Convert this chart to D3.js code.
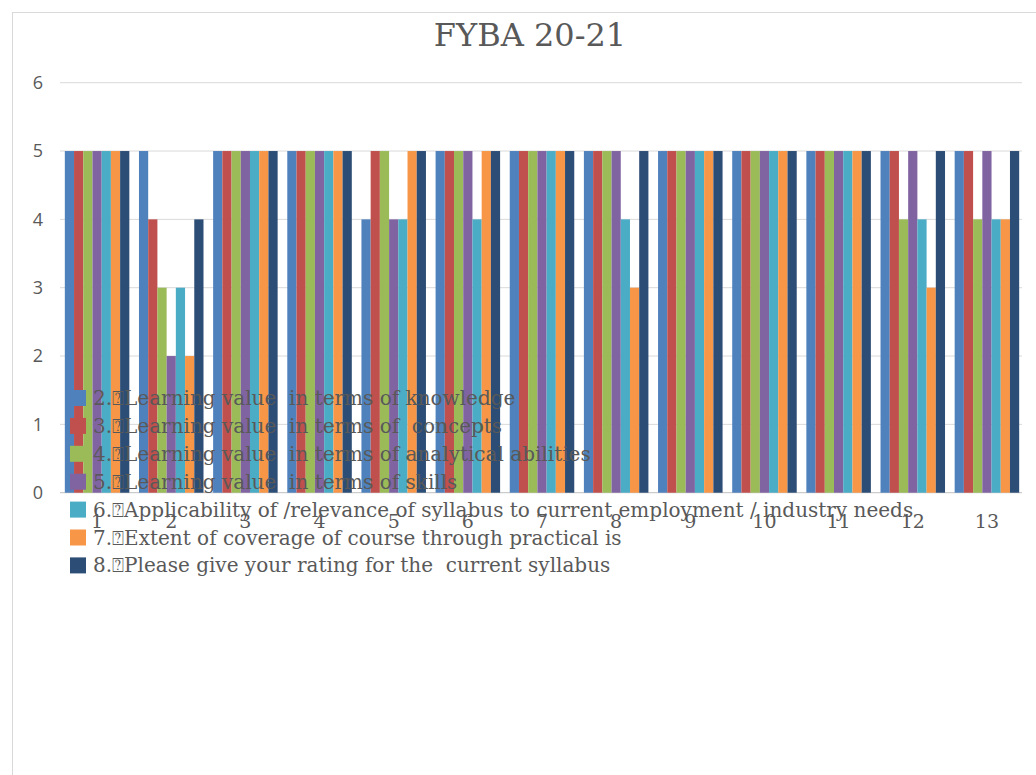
<!DOCTYPE html>
<html>
<head>
<meta charset="utf-8">
<script src="https://cdn.jsdelivr.net/npm/d3@7"></script>
<style>
  body { margin: 0; background: #fff; }
  svg { display: block; }
</style>
</head>
<body>
<svg id="chart" width="1036" height="775"></svg>
<script>
const title = 'FYBA 20-21'
const categories = ['1', '2', '3', '4', '5', '6', '7', '8', '9', '10', '11', '12', '13']
const seriesNames = [
  '2.\u2370Learning value  in terms of knowledge',
  '3.\u2370Learning value  in terms of  concepts',
  '4.\u2370Learning value  in terms of analytical abilities',
  '5.\u2370Learning value  in terms of skills',
  '6.\u2370Applicability of /relevance of syllabus to current employment / industry needs',
  '7.\u2370Extent of coverage of course through practical is',
  '8.\u2370Please give your rating for the  current syllabus'
]
const seriesColors = ['#4f81bd', '#c0504d', '#9bbb59', '#8064a2', '#4bacc6', '#f79646', '#2c4d75']
// one array per series, one value per category (1..13)
const s2 = [5, 5, 5, 5, 4, 5, 5, 5, 5, 5, 5, 5, 5]
const s3 = [5, 4, 5, 5, 5, 5, 5, 5, 5, 5, 5, 5, 5]
const s4 = [5, 3, 5, 5, 5, 5, 5, 5, 5, 5, 5, 4, 4]
const s5 = [5, 2, 5, 5, 4, 5, 5, 5, 5, 5, 5, 5, 5]
const s6 = [5, 3, 5, 5, 4, 4, 5, 4, 5, 5, 5, 4, 4]
const s7 = [5, 2, 5, 5, 5, 5, 5, 3, 5, 5, 5, 3, 4]
const s8 = [5, 4, 5, 5, 5, 5, 5, 5, 5, 5, 5, 5, 5]
const yTicks = [0, 1, 2, 3, 4, 5, 6]

const seriesValues = [s2, s3, s4, s5, s6, s7, s8]
const plotLeft = 60, plotRight = 1024, plotTop = 82.7, plotBottom = 492.7
const textColor = '#595959'
const serif = '"DejaVu Serif", serif'

let svg = d3.select('#chart')

// chart frame
svg.append('rect')
  .attr('x', 12.5).attr('y', 12.5)
  .attr('width', 1040).attr('height', 780)
  .style('fill', '#fff')
  .style('stroke', '#d9d9d9')

svg.append('text')
  .attr('x', 530).attr('y', 46)
  .style('text-anchor', 'middle')
  .style('font-family', serif)
  .style('font-size', '32px')
  .style('fill', textColor)
  .text(title)

let xScale = d3.scaleBand()
  .domain(categories)
  .range([plotLeft, plotRight])
  .paddingInner(0.13)
  .paddingOuter(0.065)
let xInner = d3.scaleBand()
  .domain(d3.range(seriesNames.length))
  .range([0, xScale.bandwidth()])
let yScale = d3.scaleLinear()
  .domain([0, 6])
  .range([plotBottom, plotTop])

// gridlines
svg.append('g')
  .selectAll('line')
  .data(yTicks)
  .enter()
  .append('line')
  .attr('x1', plotLeft).attr('x2', plotRight - 2)
  .attr('y1', d => yScale(d)).attr('y2', d => yScale(d))
  .style('stroke', d => d === 0 ? '#bfbfbf' : '#d9d9d9')
  .style('stroke-width', 1)

// y labels
let yAxis = svg.append('g')
  .attr('transform', `translate(${plotLeft - 14}, 0)`)
  .call(d3.axisLeft(yScale).tickValues(yTicks).tickSize(0).tickFormat(d3.format('d')))
yAxis.select('.domain').remove()
yAxis.selectAll('text')
  .style('font-family', '"Open Sans", sans-serif')
  .style('font-size', '18px')
  .style('fill', textColor)

// x labels
let xAxis = svg.append('g')
  .attr('transform', `translate(0, ${plotBottom + 19})`)
  .call(d3.axisBottom(xScale).tickSize(0))
xAxis.select('.domain').remove()
xAxis.selectAll('text')
  .style('font-family', serif)
  .style('font-size', '19px')
  .style('fill', textColor)

// bars
let groups = svg.append('g')
  .selectAll('g')
  .data(categories)
  .enter()
  .append('g')
  .attr('transform', d => `translate(${xScale(d)}, 0)`)

groups.selectAll('rect')
  .data((c, ci) => seriesValues.map((vals, si) => ({ si: si, v: vals[ci] })))
  .enter()
  .append('rect')
  .attr('x', d => xInner(d.si))
  .attr('width', xInner.bandwidth())
  .attr('y', d => yScale(d.v))
  .attr('height', d => yScale(0) - yScale(d.v))
  .style('fill', d => seriesColors[d.si])

// legend (overlaps the plot like the original)
let legend = svg.append('g')
  .attr('transform', 'translate(70, 398)')
let items = legend.selectAll('g')
  .data(seriesNames)
  .enter()
  .append('g')
  .attr('transform', (d, i) => `translate(0, ${i * 27.9})`)
items.append('rect')
  .attr('x', 0).attr('y', -8)
  .attr('width', 16).attr('height', 16)
  .style('fill', (d, i) => seriesColors[i])
items.append('text')
  .attr('x', 23).attr('y', 7)
  .style('font-family', serif)
  .style('font-size', '20px')
  .style('white-space', 'pre')
  .style('fill', textColor)
  .text(d => d)
</script>
</body>
</html>
